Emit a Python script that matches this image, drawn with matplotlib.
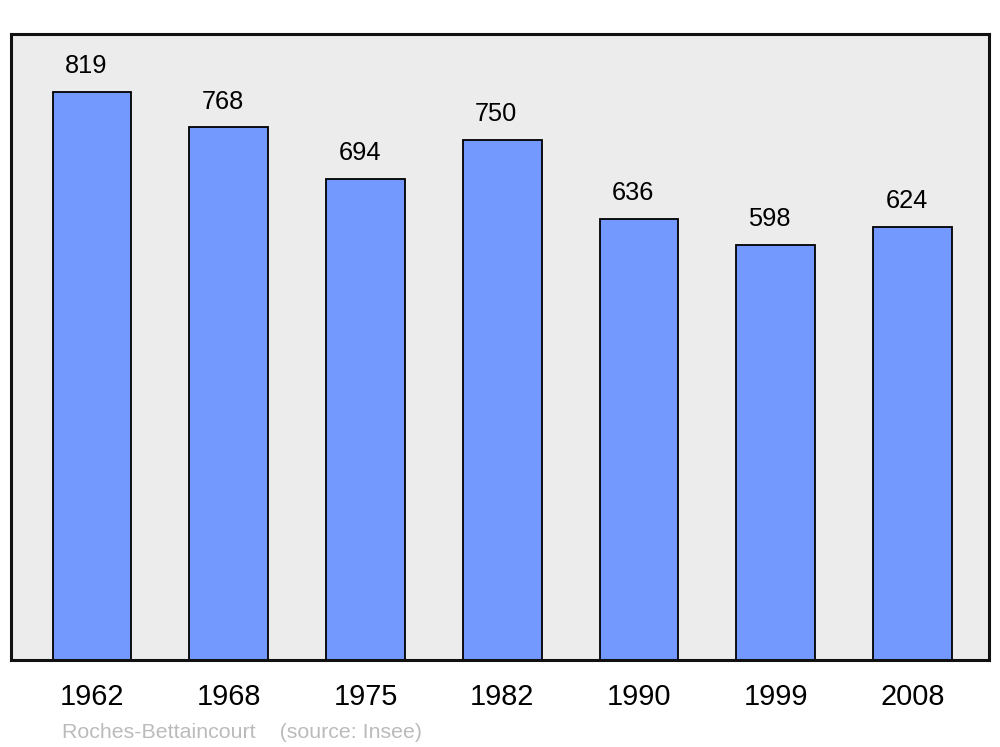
import matplotlib
matplotlib.use('Agg')
import matplotlib.pyplot as plt

years = ['1962', '1968', '1975', '1982', '1990', '1999', '2008']
population = [819, 768, 694, 750, 636, 598, 624]
commune = 'Roches-Bettaincourt'
source = '(source: Insee)'

plt.rcParams['font.family'] = ['Liberation Sans', 'DejaVu Sans']

fig = plt.figure(figsize=(10, 7.47), dpi=100)
ax = fig.add_axes([0.011, 0.1165, 0.978, 0.838])
ax.set_facecolor('#ececec')

x = list(range(len(years)))
bars = ax.bar(x, population, width=0.575, color='#7399ff', edgecolor='black', linewidth=1.3, zorder=2)

# value labels sit a bit left of the bar centre, like the original
for bar, val in zip(bars, population):
    ax.annotate(str(val), (bar.get_x() + bar.get_width() / 2, bar.get_height()),
                xytext=(-4.3, 13.5), textcoords='offset points',
                ha='center', va='baseline', fontsize=18.3, color='black')

ax.set_xlim(-0.593, 6.56)
ax.set_ylim(0, max(population) * 1.102)
ax.set_xticks(x)
ax.set_xticklabels(years, fontsize=20.8)
ax.tick_params(axis='x', length=0, pad=16.5)
ax.set_yticks([])
for s in ax.spines.values():
    s.set_linewidth(2.2)
    s.set_color('#111111')

fig.text(0.062, 1 - 738 / 747, f"{commune}    {source}", fontsize=15.4,
         color='#bbbbbb', ha='left', va='baseline')

plt.savefig('out.png', dpi=100)
plt.close()
